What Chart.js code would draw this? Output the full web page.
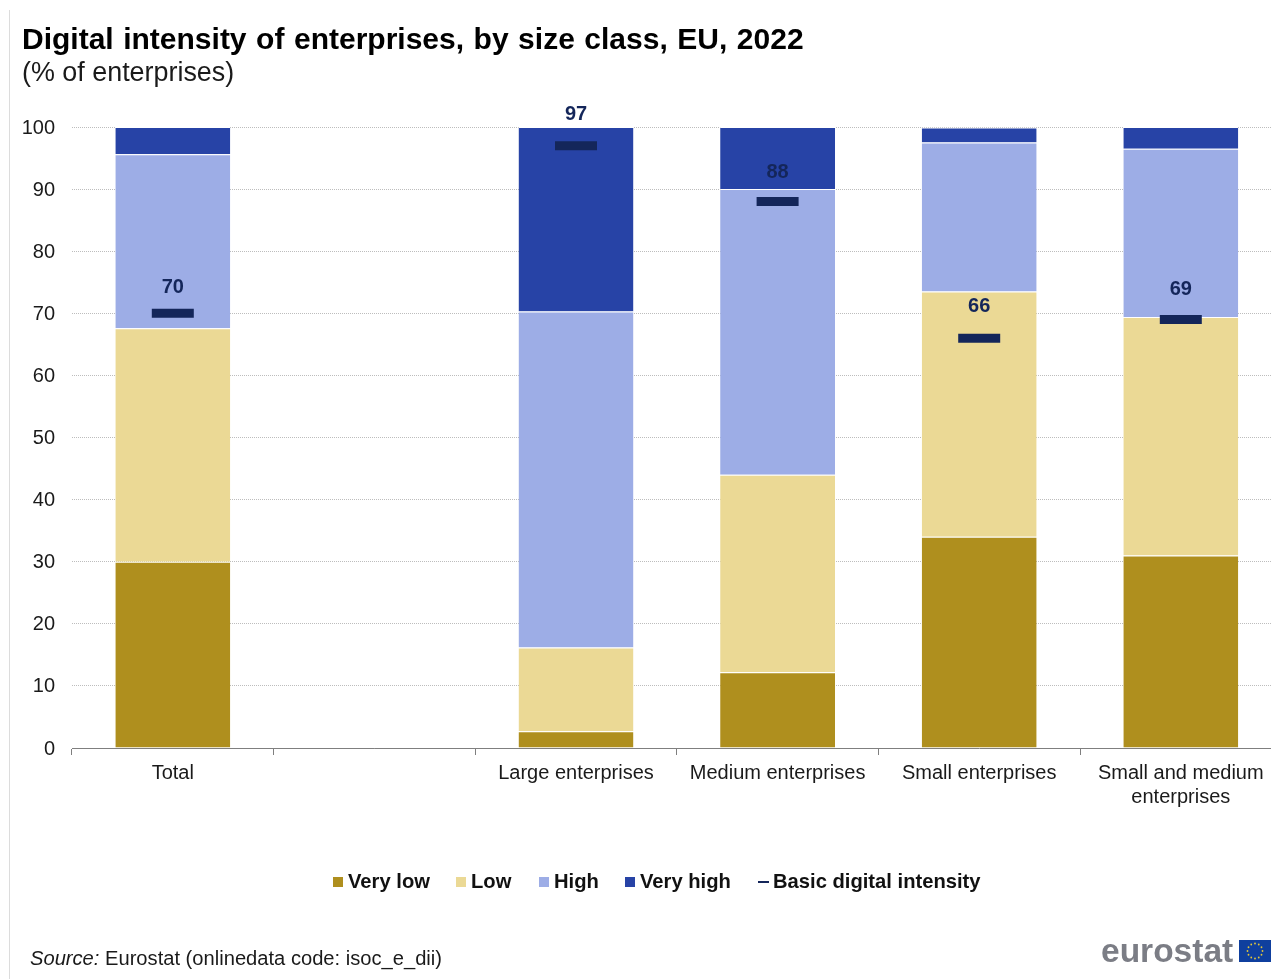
<!DOCTYPE html>
<html>
<head>
<meta charset="utf-8">
<script src="https://cdn.jsdelivr.net/npm/chart.js"></script>
<style>
  html, body { margin: 0; padding: 0; background: #fff; overflow: hidden; }
  body { width: 1271px; height: 979px; position: relative; font-family: "Liberation Sans", Arial, sans-serif; }
  /* the plot runs past the right edge of the page, so the canvas holder is wider than the body */
  #holder { position: absolute; left: 0; top: 0; width: 1290px; height: 979px; }
  .abs { position: absolute; white-space: nowrap; }
  #edge { left: 9px; top: 10px; width: 1px; height: 969px; background: #dcdcdc; }
  #title { left: 22px; top: 22px; font-size: 30px; font-weight: bold; color: #000; word-spacing: 1.2px; }
  #subtitle { left: 22px; top: 57px; font-size: 26.9px; color: #1a1a1a; }
  #legend { left: 0; top: 870px; width: 1271px; height: 24px; font-size: 20.2px; font-weight: bold; color: #111; }
  #legend span.item { position: absolute; top: 0; display: flex; align-items: center; }
  #legend i { display: block; width: 10px; height: 10px; margin-right: 5px; }
  #legend i.dash { height: 2px; width: 11px; margin-right: 4px; }
  #source { left: 30px; top: 947px; font-size: 20.15px; color: #1a1a1a; }
  #brand { left: 1101px; top: 932px; font-size: 33.5px; font-weight: bold; color: #7b7d85; }
  #flag { left: 1239px; top: 940px; }
</style>
</head>
<body>
<div id="holder"><canvas id="myChart" width="1290" height="979"></canvas></div>
<div class="abs" id="edge"></div>
<div class="abs" id="title"></div>
<div class="abs" id="subtitle"></div>
<div class="abs" id="legend"></div>
<div class="abs" id="source"><em>Source:</em> Eurostat (onlinedata code: isoc_e_dii)</div>
<div class="abs" id="brand">eurostat</div>
<svg class="abs" id="flag" width="32" height="22" viewBox="0 0 32 22"></svg>
<script>
const titleText = 'Digital intensity of enterprises, by size class, EU, 2022';
const subtitleText = '(% of enterprises)';
const categories = ['Total', '', 'Large enterprises', 'Medium enterprises', 'Small enterprises', ['Small and medium', 'enterprises']];

const veryLow = [30, null, 2.7, 12.2, 34, 31];
const low = [37.6, null, 13.5, 31.8, 39.5, 38.4];
const high = [28, null, 54.1, 46, 24, 27.1];
const veryHigh = [4.4, null, 29.7, 10, 2.4, 3.5];
const basic = [70, null, 97, 88, 66, 69];

const yTicks = [0, 10, 20, 30, 40, 50, 60, 70, 80, 90, 100];

const colVeryLow = '#af8f1e';
const colLow = '#ebd995';
const colHigh = '#9dade6';
const colVeryHigh = '#2743a6';
const colBasic = '#14265a';

document.getElementById('title').textContent = titleText;
document.getElementById('subtitle').textContent = subtitleText;

function barSet(label, data, color) {
  return {
    type: 'bar',
    order: 1,
    label: label,
    data: data,
    backgroundColor: color,
    borderColor: '#ffffff',
    borderWidth: { top: 1, bottom: 0, left: 0, right: 0 },
    borderSkipped: false,
    barPercentage: 0.57,
    categoryPercentage: 1
  };
}

const datasets = [
  barSet('Very low', veryLow, colVeryLow),
  barSet('Low', low, colLow),
  barSet('High', high, colHigh),
  barSet('Very high', veryHigh, colVeryHigh),
  {
    type: 'line',
    order: 0,
    label: 'Basic digital intensity',
    data: basic,
    stack: 'basic',
    showLine: false,
    pointStyle: 'line',
    pointRadius: 21,
    pointBorderWidth: 9,
    pointBorderColor: colBasic,
    pointBackgroundColor: colBasic
  }
];

// the value labels were placed by hand above each marker, so the lift differs a bit
const labelLift = [26, null, 31, 29, 32, 30];

const basicLabels = {
  id: 'basicLabels',
  afterDatasetsDraw(chart) {
    const ctx = chart.ctx;
    const meta = chart.getDatasetMeta(4);
    ctx.save();
    ctx.font = 'bold 20px "Liberation Sans", Arial, sans-serif';
    ctx.fillStyle = colBasic;
    ctx.textAlign = 'center';
    ctx.textBaseline = 'middle';
    basic.forEach((v, i) => {
      if (v === null) return;
      ctx.fillText(String(v), meta.data[i].x, meta.data[i].y - labelLift[i]);
    });
    ctx.restore();
  }
};

new Chart(document.getElementById('myChart'), {
  type: 'bar',
  data: { labels: categories, datasets: datasets },
  plugins: [basicLabels],
  options: {
    responsive: false,
    animation: false,
    // autoPadding would reserve room for the wide marker points
    layout: { autoPadding: false, padding: { top: 127, right: 8.4, left: 0, bottom: 0 } },
    plugins: { legend: { display: false }, title: { display: false }, tooltip: { enabled: false } },
    scales: {
      x: {
        stacked: true,
        afterFit(scale) { scale.height = 231; },
        border: { display: true, color: '#7f7f7f', width: 1 },
        grid: { offset: true, drawOnChartArea: false, drawTicks: true, tickLength: 7, tickColor: '#7f7f7f' },
        ticks: {
          autoSkip: false,
          maxRotation: 0,
          padding: 6,
          color: '#1a1a1a',
          font: { family: '"Liberation Sans", Arial, sans-serif', size: 20 }
        }
      },
      y: {
        stacked: true,
        min: 0,
        max: 100,
        afterFit(scale) { scale.width = 72; },
        afterBuildTicks(scale) { scale.ticks = yTicks.map(v => ({ value: v })); },
        border: { display: false, dash: [1, 1] },
        grid: { color: '#bdbdbd', lineWidth: 1, drawTicks: false, tickLength: 0 },
        ticks: {
          padding: 17,
          labelOffset: 1,
          color: '#1a1a1a',
          font: { family: '"Liberation Sans", Arial, sans-serif', size: 20 }
        }
      }
    }
  }
});

// legend row, each entry at its own offset
const legendLeft = [333, 456, 539, 625, 758];
const legend = document.getElementById('legend');
datasets.forEach((d, i) => {
  const item = document.createElement('span');
  item.className = 'item';
  item.style.left = legendLeft[i] + 'px';
  const swatch = document.createElement('i');
  if (d.type === 'line') {
    swatch.className = 'dash';
    swatch.style.background = colBasic;
  } else {
    swatch.style.background = d.backgroundColor;
  }
  item.appendChild(swatch);
  item.appendChild(document.createTextNode(d.label));
  legend.appendChild(item);
});

// small EU flag next to the wordmark
const flag = document.getElementById('flag');
let flagSvg = '<rect width="32" height="22" fill="#0f3f9e"/>';
for (let s = 0; s < 12; s++) {
  const a = s * Math.PI / 6;
  flagSvg += '<circle cx="' + (16 + 7.5 * Math.cos(a)) + '" cy="' + (11 + 7.5 * Math.sin(a)) + '" r="0.9" fill="#e3c83a"/>';
}
flag.innerHTML = flagSvg;
</script>
</body>
</html>
